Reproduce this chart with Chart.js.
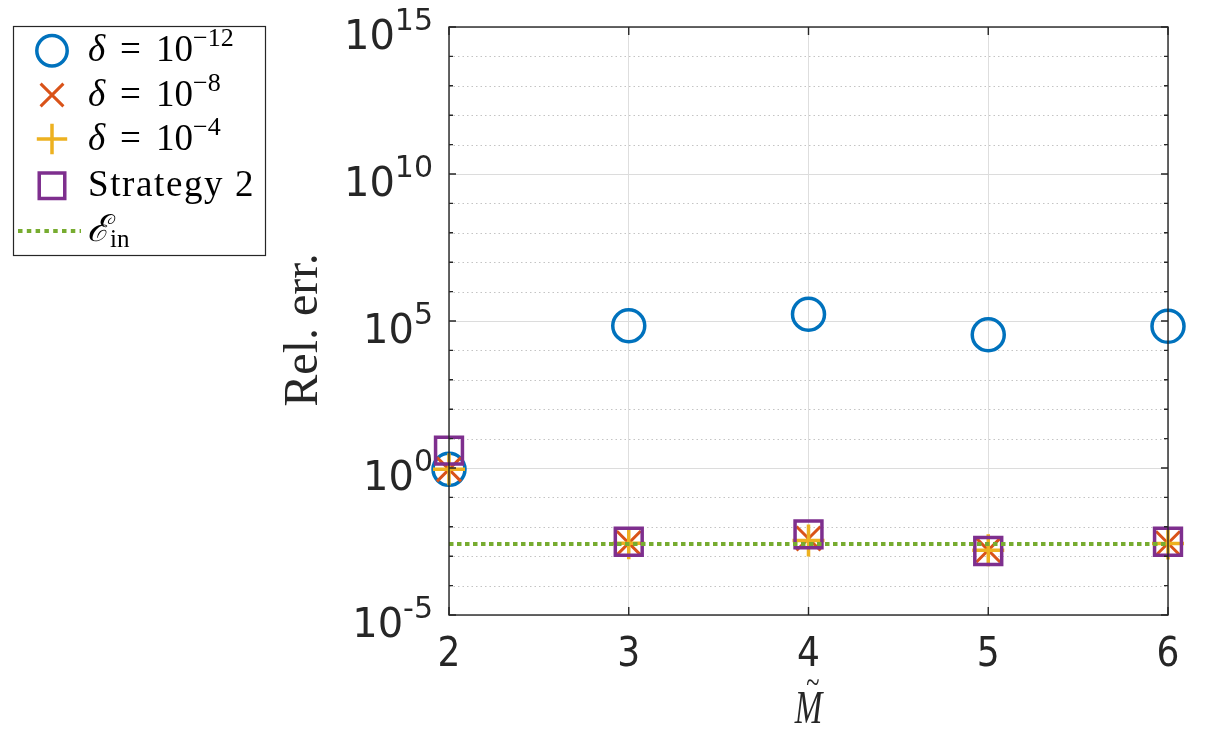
<!DOCTYPE html>
<html>
<head>
<meta charset="utf-8">
<script src="https://cdn.jsdelivr.net/npm/chart.js@4/dist/chart.umd.min.js"></script>
<style>
  html, body { margin: 0; padding: 0; background: #fff; }
  #wrap { width: 1211px; height: 739px; }
</style>
</head>
<body>
<div id="wrap"><canvas id="err-chart" width="1211" height="739"></canvas></div>
<script>
// valores
const mTilde = [2, 3, 4, 5, 6];
const errDelta12 = [0.9, 6.9e4, 1.7e5, 3.4e4, 6.6e4];
const errDelta8 = [0.9, 2.8e-3, 4.0e-3, 1.6e-3, 2.75e-3];
const errDelta4 = [0.9, 2.75e-3, 3.4e-3, 1.6e-3, 2.7e-3];
const errStrategy2 = [3.9, 3.1e-3, 5.5e-3, 1.5e-3, 3.1e-3];
const eIn = [2.6e-3, 2.6e-3];
const eInX = [2, 6];
const yDecades = [-5, -4, -3, -2, -1, 0, 1, 2, 3, 4, 5, 6, 7, 8, 9, 10, 11, 12, 13, 14, 15];
const yLabelExp = [-5, 0, 5, 10, 15];

const AX = '#262626';
const colores = { d12: '#0072BD', d8: '#D95319', d4: '#EDB120', s2: '#7E2F8E', ein: '#77AC30' };

const pts = (ys) => mTilde.map((m, i) => ({ x: m, y: ys[i] }));

const ejesMatlab = {
  id: 'ejesMatlab',
  beforeDatasetsDraw(chart) {
    const { ctx, chartArea: a, scales: { y } } = chart;
    ctx.save();
    yDecades.forEach(k => {
      const py = Math.round(y.getPixelForValue(Math.pow(10, k))) + 0.5;
      ctx.beginPath();
      if (k % 5 === 0) { ctx.strokeStyle = '#dcdcdc'; ctx.setLineDash([]); }
      else { ctx.strokeStyle = '#c4c4c4'; ctx.setLineDash([1.5, 3]); }
      ctx.lineWidth = 1;
      ctx.moveTo(a.left, py); ctx.lineTo(a.right, py);
      ctx.stroke();
    });
    ctx.restore();
  },
  afterDraw(chart) {
    const { ctx, chartArea: a, scales: { x, y } } = chart;
    ctx.save();
    // caja y marcas hacia dentro
    ctx.strokeStyle = AX; ctx.lineWidth = 1.4; ctx.setLineDash([]);
    ctx.strokeRect(a.left, a.top, a.right - a.left, a.bottom - a.top);
    ctx.beginPath();
    mTilde.forEach(m => {
      const px = x.getPixelForValue(m);
      ctx.moveTo(px, a.bottom); ctx.lineTo(px, a.bottom - 8);
      ctx.moveTo(px, a.top); ctx.lineTo(px, a.top + 8);
    });
    yDecades.forEach(k => {
      const py = y.getPixelForValue(Math.pow(10, k));
      const len = k % 5 === 0 ? 7 : 4;
      ctx.moveTo(a.left, py); ctx.lineTo(a.left + len, py);
      ctx.moveTo(a.right, py); ctx.lineTo(a.right - len, py);
    });
    ctx.stroke();

    // etiquetas del eje y: 10^k
    ctx.fillStyle = AX;
    ctx.textAlign = 'right';
    ctx.textBaseline = 'alphabetic';
    yLabelExp.forEach(k => {
      const py = y.getPixelForValue(Math.pow(10, k));
      const right = a.left - 16;
      ctx.font = '30px "DejaVu Sans"';
      const ex = String(k);
      const w = ctx.measureText(ex).width;
      ctx.fillText(ex, right, py + 2.5);
      ctx.font = '40px "DejaVu Sans"';
      ctx.fillText('10', right - w, py + 22);
    });

    // titulo eje y
    ctx.save();
    ctx.translate(317, 330);
    ctx.rotate(-Math.PI / 2);
    ctx.textAlign = 'center';
    ctx.font = '48px "Liberation Serif"';
    ctx.fillText('Rel. err.', 0, 0);
    ctx.restore();

    // titulo eje x: M con tilde
    ctx.save();
    ctx.translate((a.left + a.right) / 2, 723);
    ctx.scale(0.72, 1);
    ctx.textAlign = 'center';
    ctx.font = 'italic 46px "Liberation Serif"';
    ctx.fillText('M', 0, 0);
    ctx.font = '34px "Liberation Serif"';
    ctx.fillText('~', 6, -30);
    ctx.restore();

    dibujarLeyenda(ctx, chart);
    ctx.restore();
  }
};

function marca(ctx, estilo, radio, ancho, color, cx, cy) {
  ctx.save();
  ctx.strokeStyle = color;
  ctx.fillStyle = 'rgba(0,0,0,0)';
  ctx.lineWidth = ancho;
  Chart.helpers.drawPoint(ctx, { pointStyle: estilo, radius: radio, rotation: 0, borderWidth: ancho }, cx, cy);
  ctx.restore();
}

function dibujarLeyenda(ctx, chart) {
  ctx.save();
  ctx.fillStyle = '#fff';
  ctx.fillRect(13.5, 26.5, 252, 229);
  ctx.strokeStyle = AX; ctx.lineWidth = 1.2;
  ctx.strokeRect(13.5, 26.5, 252, 229);

  const ds = chart.data.datasets;
  const filas = [50.7, 95, 139, 185.7, 231];
  for (let i = 0; i < 4; i++) {
    marca(ctx, ds[i].pointStyle, ds[i].pointRadius * 0.95, ds[i].borderWidth, ds[i].borderColor, 52, filas[i]);
  }
  ctx.beginPath();
  ctx.strokeStyle = colores.ein; ctx.lineWidth = 4; ctx.setLineDash([4.5, 4.3]);
  ctx.moveTo(18, filas[4]); ctx.lineTo(81, filas[4]);
  ctx.stroke();
  ctx.setLineDash([]);

  ctx.fillStyle = '#000';
  ctx.textAlign = 'left';
  ctx.textBaseline = 'alphabetic';
  const exps = ['\u221212', '\u22128', '\u22124'];
  for (let i = 0; i < 3; i++) {
    const b = filas[i] + 10.5;
    ctx.font = 'italic 37px "Liberation Serif"';
    ctx.fillText('\u03b4', 88, b);
    ctx.font = '37px "Liberation Serif"';
    ctx.fillText('=', 120, b);
    ctx.fillText('10', 156, b);
    ctx.font = '26px "Liberation Serif"';
    ctx.fillText(exps[i], 193, b - 15);
  }
  ctx.font = '37px "Liberation Serif"';
  try { ctx.letterSpacing = '1.6px'; } catch (e) {}
  ctx.fillText('Strategy 2', 88, filas[3] + 10.5);
  try { ctx.letterSpacing = '0px'; } catch (e) {}
  ctx.font = 'italic 37px "Liberation Serif", "DejaVu Serif"';
  ctx.fillText('\u2130', 87, filas[4] + 10);
  ctx.font = '25px "Liberation Serif"';
  ctx.fillText('in', 110, filas[4] + 15.5);
  ctx.restore();
}

new Chart(document.getElementById('err-chart'), {
  type: 'scatter',
  data: {
    datasets: [
      { label: 'delta=1e-12', data: pts(errDelta12), pointStyle: 'circle', pointRadius: 16,
        borderColor: colores.d12, backgroundColor: 'rgba(0,0,0,0)', borderWidth: 3.5, clip: false, order: 5 },
      { label: 'delta=1e-8', data: pts(errDelta8), pointStyle: 'crossRot', pointRadius: 17,
        borderColor: colores.d8, backgroundColor: 'rgba(0,0,0,0)', borderWidth: 3, clip: false, order: 4 },
      { label: 'delta=1e-4', data: pts(errDelta4), pointStyle: 'cross', pointRadius: 16,
        borderColor: colores.d4, backgroundColor: 'rgba(0,0,0,0)', borderWidth: 3.5, clip: false, order: 3 },
      { label: 'Strategy 2', data: pts(errStrategy2), pointStyle: 'rect', pointRadius: 19,
        borderColor: colores.s2, backgroundColor: 'rgba(0,0,0,0)', borderWidth: 3.5, clip: false, order: 2 },
      { type: 'line', label: 'E_in', data: eInX.map((m, i) => ({ x: m, y: eIn[i] })),
        borderColor: colores.ein, borderWidth: 4, borderDash: [4.5, 3.5], pointRadius: 0, fill: false, order: 1 }
    ]
  },
  options: {
    responsive: false,
    animation: false,
    events: [],
    layout: { padding: { left: 0, top: 27, right: 43, bottom: 0 } },
    plugins: { legend: { display: false }, tooltip: { enabled: false } },
    scales: {
      x: {
        type: 'linear', min: 2, max: 6,
        ticks: { stepSize: 1, color: AX, padding: 17,
                 font: { family: '"DejaVu Sans Condensed", "DejaVu Sans"', size: 40 } },
        grid: { color: '#dedede', lineWidth: 1, drawTicks: false },
        border: { display: false },
        afterFit(s) { s.height = 124; }
      },
      y: {
        type: 'logarithmic', min: 1e-5, max: 1e15,
        ticks: { display: false },
        grid: { display: false, drawTicks: false },
        border: { display: false },
        afterFit(s) { s.width = 449; }
      }
    }
  },
  plugins: [ejesMatlab]
});
</script>
</body>
</html>
